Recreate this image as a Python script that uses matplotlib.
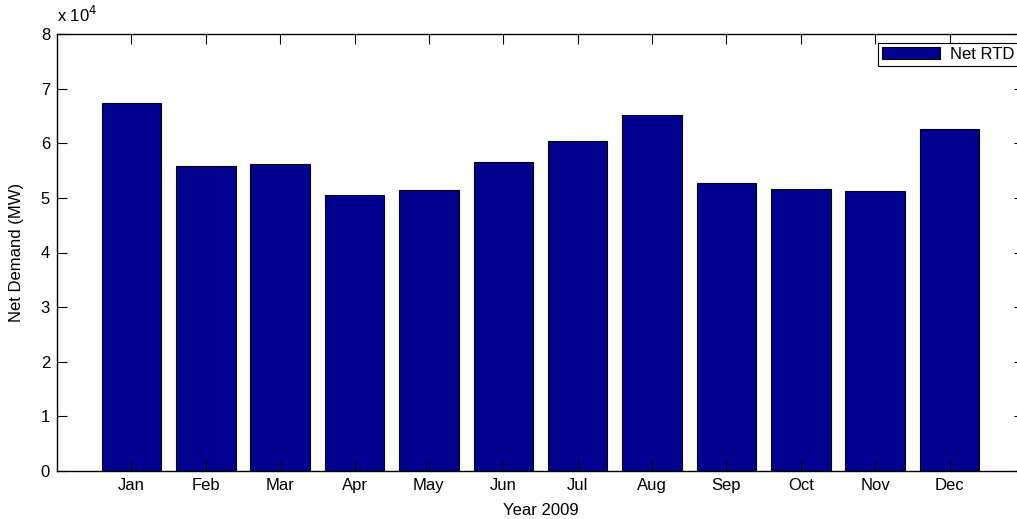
import matplotlib
matplotlib.use('Agg')
import matplotlib.pyplot as plt
from matplotlib.ticker import FuncFormatter
import numpy as np

months = ['Jan', 'Feb', 'Mar', 'Apr', 'May', 'Jun',
          'Jul', 'Aug', 'Sep', 'Oct', 'Nov', 'Dec']
net_rtd = [67400, 55900, 56200, 50600, 51400, 56600,
           60500, 65100, 52700, 51600, 51300, 62700]

plt.rcParams['font.family'] = ['Liberation Sans', 'DejaVu Sans']
FS = 12

W, H = 1017, 519
fig = plt.figure(figsize=(W / 100, H / 100), dpi=100)
# axes run slightly past the right edge of the figure
ax = fig.add_axes([57 / W, 48 / H, (1024 - 57) / W, (471 - 34) / H])

x = np.arange(1, len(months) + 1)
ax.bar(x, net_rtd, width=0.8, color='#000090', edgecolor='black',
       linewidth=0.8, label='Net RTD')

ax.set_xlim(0, 13)
ax.set_ylim(0, 80000)
ax.set_xticks(x)
ax.set_xticklabels(months)
ax.set_yticks(np.arange(0, 80001, 10000))
ax.yaxis.set_major_formatter(FuncFormatter(lambda v, p: f'{v / 1e4:g}'))
ax.tick_params(direction='in', length=7, width=0.8, top=True, right=True,
               labelsize=FS, pad=5)
for s in ax.spines.values():
    s.set_linewidth(1.0)

ax.text(0, 1.02, r'x 10$^{4}$', transform=ax.transAxes, fontsize=FS,
        ha='left', va='bottom')

ax.set_ylabel('Net Demand (MW)', fontsize=FS, labelpad=12)
ax.set_xlabel('Year 2009', fontsize=FS, labelpad=7)

leg = ax.legend(loc='upper right', bbox_to_anchor=(1019 / W, 1 - 43 / H),
                bbox_transform=fig.transFigure, borderaxespad=0,
                fancybox=False, framealpha=1, edgecolor='black',
                handlelength=3.5, handleheight=0.75, handletextpad=0.6,
                borderpad=0.25, fontsize=FS)
leg.get_frame().set_linewidth(0.8)

fig.savefig('out.png', dpi=100)
